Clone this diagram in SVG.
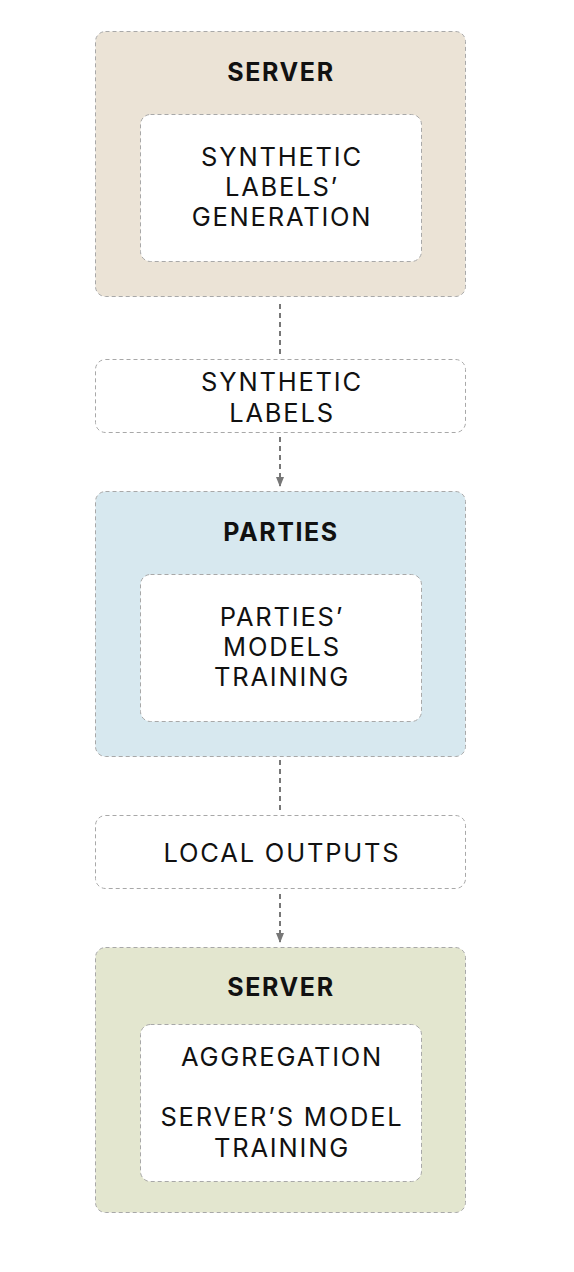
<svg xmlns="http://www.w3.org/2000/svg" width="574" height="1272" viewBox="0 0 574 1272">
<defs>
<style>
.outer{stroke:#a8a8a8;stroke-width:1;stroke-dasharray:4 3}
.inner{fill:#fff;stroke:#a8a8a8;stroke-width:1;stroke-dasharray:4 3}
.lbl{fill:#fff;stroke:#a8a8a8;stroke-width:1;stroke-dasharray:4 3}
.t{font-family:Inter,"Liberation Sans",sans-serif;font-size:25.5px;fill:#111;text-anchor:middle;letter-spacing:1.8px}
.b{font-family:Inter,"Liberation Sans",sans-serif;font-size:25px;font-weight:700;fill:#111;text-anchor:middle;letter-spacing:1.6px}
.c{stroke:#777;stroke-width:2;stroke-dasharray:5 4;fill:none}
</style>
<marker id="ah" markerWidth="10" markerHeight="8" refX="9" refY="4" orient="auto" markerUnits="userSpaceOnUse">
<path d="M0,0 L10,4 L0,8 Z" fill="#777"/>
</marker>
</defs>
<rect width="574" height="1272" fill="#fff"/>
<g id="connectors">
<line class="c" x1="280" y1="304" x2="280" y2="354"/>
<line class="c" x1="280" y1="437" x2="280" y2="486" marker-end="url(#ah)"/>
<line class="c" x1="280" y1="760" x2="280" y2="810"/>
<line class="c" x1="280" y1="894" x2="280" y2="942" marker-end="url(#ah)"/>
</g>
<g id="server1">
<rect class="outer" x="95.5" y="31.5" width="370" height="265" rx="10" fill="#ebe3d6"/>
<text class="b" x="281" y="81">SERVER</text>
<rect class="inner" x="140.5" y="114.5" width="281" height="147" rx="10"/>
<text class="t" x="282" y="166">SYNTHETIC</text>
<text class="t" x="282" y="196">LABELS’</text>
<text class="t" x="282" y="226">GENERATION</text>
</g>
<g id="synthetic-labels">
<rect class="lbl" x="95.5" y="359.5" width="370" height="73" rx="10"/>
<text class="t" x="282" y="391">SYNTHETIC</text>
<text class="t" x="282" y="422">LABELS</text>
</g>
<g id="parties">
<rect class="outer" x="95.5" y="491.5" width="370" height="265" rx="10" fill="#d7e8ef"/>
<text class="b" x="281" y="541">PARTIES</text>
<rect class="inner" x="140.5" y="574.5" width="281" height="147" rx="10"/>
<text class="t" x="282" y="626">PARTIES’</text>
<text class="t" x="282" y="656">MODELS</text>
<text class="t" x="282" y="686">TRAINING</text>
</g>
<g id="local-outputs">
<rect class="lbl" x="95.5" y="815.5" width="370" height="73" rx="10"/>
<text class="t" x="282" y="862">LOCAL OUTPUTS</text>
</g>
<g id="server2">
<rect class="outer" x="95.5" y="947.5" width="370" height="265" rx="10" fill="#e3e6cf"/>
<text class="b" x="281" y="996">SERVER</text>
<rect class="inner" x="140.5" y="1024.5" width="281" height="157" rx="10"/>
<text class="t" x="282" y="1066">AGGREGATION</text>
<text class="t" x="282" y="1126">SERVER’S MODEL</text>
<text class="t" x="282" y="1157">TRAINING</text>
</g>
</svg>
